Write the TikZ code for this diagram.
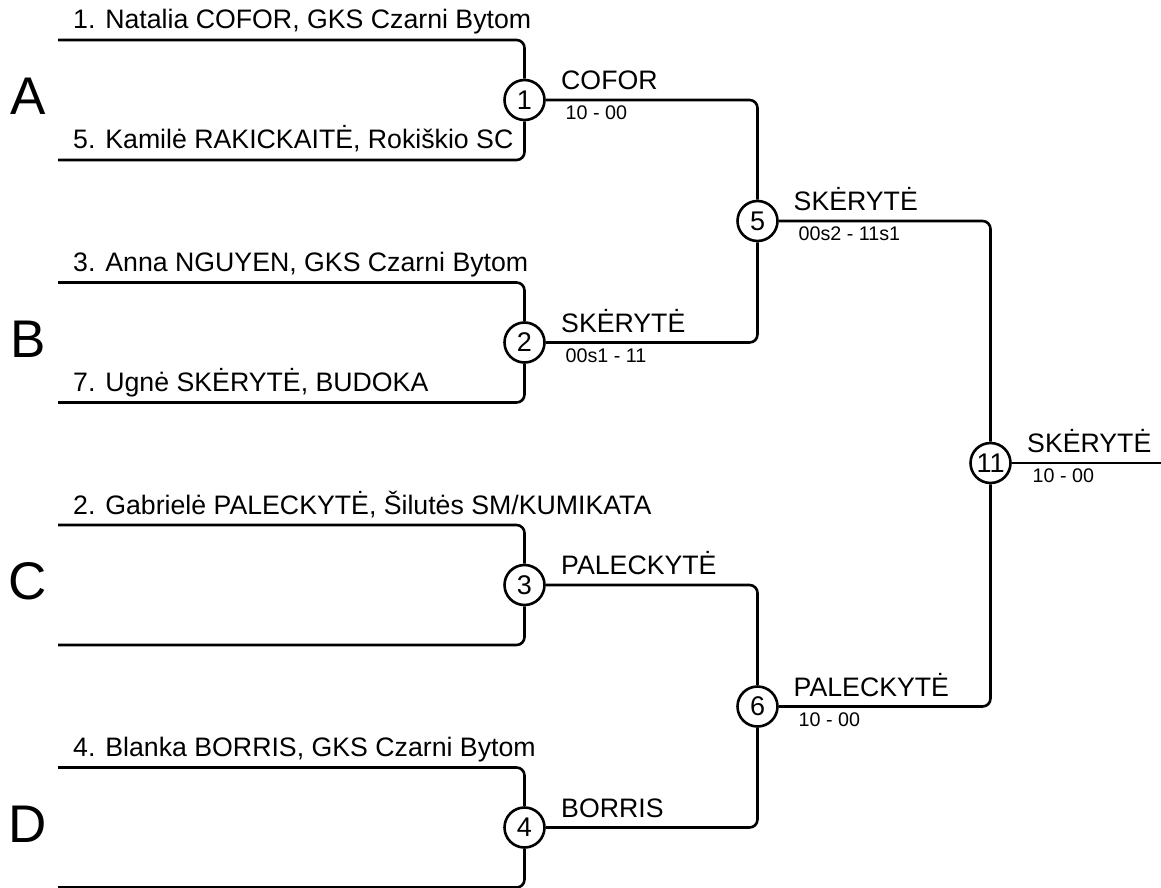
\documentclass[tikz,border=0pt]{standalone}
\usepackage{fontspec}
\setmainfont{Liberation Sans}
\begin{document}
\begin{tikzpicture}[x=1pt,y=-1pt,
  br/.style={line width=2.6pt, rounded corners=8pt},
  pname/.style={anchor=base west, inner sep=0pt, font=\fontsize{26.7}{32}\selectfont},
  winlbl/.style={anchor=base west, inner sep=0pt, font=\fontsize{26.7}{32}\selectfont},
  scorelbl/.style={anchor=base west, inner sep=0pt, font=\fontsize{19.7}{24}\selectfont},
  grplbl/.style={anchor=base, inner sep=0pt, font=\fontsize{53}{60}\selectfont},
  matchc/.style={circle, draw, line width=2.6pt, minimum size=40pt, inner sep=0pt, fill=white, font=\fontsize{27}{32}\selectfont}]
\useasboundingbox (0,0) rectangle (1161,888);

% match circles
\node[matchc] (m1) at (524.5,100) {1};
\node[matchc] (m2) at (524.5,342.5) {2};
\node[matchc] (m3) at (524.5,585) {3};
\node[matchc] (m4) at (524.5,827.5) {4};
\node[matchc] (m5) at (757.5,221) {5};
\node[matchc] (m6) at (757.5,706.5) {6};
\node[matchc] (m11) at (990.5,463) {11};

% free ends of the first-round lines
\coordinate (pa1) at (58,40);
\coordinate (pa2) at (58,160);
\coordinate (pb1) at (58,282.5);
\coordinate (pb2) at (58,402.5);
\coordinate (pc1) at (58,525);
\coordinate (pc2) at (58,645);
\coordinate (pd1) at (58,767.5);
\coordinate (pd2) at (58,887.5);
\coordinate (fin) at (1161,463);

% group letters
\node[grplbl] (gA) at (28,114.5) {A};
\node[grplbl] (gB) at (28,357) {B};
\node[grplbl] (gC) at (28,599.5) {C};
\node[grplbl] (gD) at (28,842) {D};

% player names
\node[pname] (na1) at (73,29) {1. Natalia COFOR, GKS Czarni Bytom};
\node[pname] (na2) at (73,149) {5. Kamilė RAKICKAITĖ, Rokiškio SC};
\node[pname] (nb1) at (73,271.5) {3. Anna NGUYEN, GKS Czarni Bytom};
\node[pname] (nb2) at (73,391.5) {7. Ugnė SKĖRYTĖ, BUDOKA};
\node[pname] (nc1) at (73,514) {2. Gabrielė PALECKYTĖ, Šilutės SM/KUMIKATA};
\node[pname] (nd1) at (73,756.5) {4. Blanka BORRIS, GKS Czarni Bytom};

% first round lines
\draw[br] (pa1) -| (m1.north);
\draw[br] (pa2) -| (m1.south);
\draw[br] (pb1) -| (m2.north);
\draw[br] (pb2) -| (m2.south);
\draw[br] (pc1) -| (m3.north);
\draw[br] (pc2) -| (m3.south);
\draw[br] (pd1) -| (m4.north);
\draw[br] (pd2) -| (m4.south);

% later rounds
\draw[br] (m1.east) -| (m5.north);
\draw[br] (m2.east) -| (m5.south);
\draw[br] (m3.east) -| (m6.north);
\draw[br] (m4.east) -| (m6.south);
\draw[br] (m5.east) -| (m11.north);
\draw[br] (m6.east) -| (m11.south);
\draw[br] (m11.east) -- (fin);

% winners and scores
\node[winlbl] (w1) at (561,89.5) {COFOR};
\node[scorelbl] (s1) at (565.5,119.5) {10 - 00};
\node[winlbl] (w2) at (561,332) {SKĖRYTĖ};
\node[scorelbl] (s2) at (565.5,362) {00s1 - 11};
\node[winlbl] (w3) at (561,574.5) {PALECKYTĖ};
\node[winlbl] (w4) at (561,817) {BORRIS};
\node[winlbl] (w5) at (793.5,210.5) {SKĖRYTĖ};
\node[scorelbl] (s5) at (798.5,240.5) {00s2 - 11s1};
\node[winlbl] (w6) at (793.5,696) {PALECKYTĖ};
\node[scorelbl] (s6) at (798.5,726) {10 - 00};
\node[winlbl] (w11) at (1027,452.5) {SKĖRYTĖ};
\node[scorelbl] (s11) at (1032.5,482.5) {10 - 00};
\end{tikzpicture}
\end{document}
